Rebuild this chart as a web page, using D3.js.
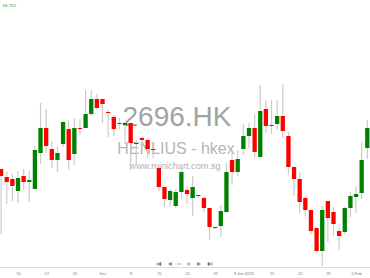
<!DOCTYPE html>
<html>
<head>
<meta charset="utf-8">
<script src="https://cdn.jsdelivr.net/npm/d3@7"></script>
<style>
  body { margin: 0; background: #fff; }
  svg { display: block; font-family: "Liberation Sans", Arial, sans-serif; }
</style>
</head>
<body>
<svg width="370" height="278"></svg>
<script>
// daily candles, 5 Nov 2025 -> 9 Feb 2026 (trading days only)
var opens  = [56.55,56.15,56.05,55.45,56.20,55.90,55.55,57.35,58.60,57.55,57.00,57.80,58.55,57.30,58.60,58.60,59.30,60.05,60.05,59.40,59.15,58.85,58.75,58.85,57.85,58.10,58.00,57.55,56.60,55.65,55.00,54.70,55.40,55.50,55.10,55.20,55.10,54.60,53.60,53.70,54.40,57.00,56.40,57.55,58.20,58.60,57.15,59.55,58.70,58.80,59.20,58.20,56.65,56.05,55.10,54.50,53.60,52.45,54.95,54.40,53.45,53.40,54.60,55.15,55.35,57.60];
var highs  = [56.55,56.40,56.30,56.45,56.55,56.45,57.70,59.85,59.55,57.95,57.65,58.95,59.00,59.10,59.05,60.50,60.50,60.30,60.05,59.50,59.25,59.10,58.90,58.90,58.00,58.15,58.10,57.65,56.60,55.65,55.55,55.55,56.70,55.70,56.20,55.25,55.15,54.60,53.65,54.75,56.85,57.40,57.50,58.80,58.85,59.30,60.75,60.00,60.00,60.00,60.80,58.40,56.70,56.40,55.20,54.50,53.60,54.70,54.95,54.65,53.65,54.65,55.40,55.70,57.90,59.00];
var lows   = [53.30,54.80,54.95,54.85,55.50,54.90,55.55,56.80,57.35,56.60,56.40,57.65,56.50,56.75,58.25,58.60,59.20,59.50,58.85,58.15,58.20,58.55,57.80,56.50,56.75,57.40,57.10,57.10,55.45,54.65,54.65,54.60,55.05,54.80,54.20,55.10,54.40,53.00,53.55,53.15,54.35,55.75,56.20,57.25,57.60,57.10,57.15,58.35,58.30,58.50,58.10,56.25,55.20,54.35,54.20,53.30,52.40,51.70,52.90,53.20,52.50,53.30,54.15,54.35,55.05,57.05];
var closes = [56.20,55.90,55.70,56.10,55.90,56.00,57.50,58.60,57.70,57.00,57.35,58.90,57.00,58.60,58.55,59.30,60.05,59.60,59.80,59.35,58.55,58.80,58.85,57.85,57.80,58.00,57.55,57.50,55.65,55.05,55.45,55.40,56.40,55.30,55.65,55.25,54.60,53.65,53.65,54.45,56.40,56.40,57.05,58.20,58.60,57.40,59.45,58.70,58.75,59.20,58.45,56.65,56.05,54.90,54.50,53.45,52.45,54.50,54.10,53.80,53.20,54.60,55.20,55.30,57.00,58.60];

var tickIndex  = [3, 8, 13, 18, 23, 28, 33, 38, 43, 48, 53, 58, 63];
var tickLabels = ["10", "17", "24", "Dec", "8", "15", "22", "31", "8 Jan 2026", "15", "22", "29", "5 Feb"];

var topLabel = "64.750";

var svg = d3.select("svg"),
    width = +svg.attr("width"),
    height = +svg.attr("height");

var x = d3.scaleLinear().domain([0, opens.length - 1]).range([1.1, 367.3]);
var y = d3.scaleLinear().domain([65, 50.75]).range([0, 285]);

// watermark
var wm = svg.append("g").attr("text-anchor", "middle");
wm.append("text").attr("x", 177).attr("y", 126).style("font-size", "28px").style("fill", "#a3a3a3").text("2696.HK");
wm.append("text").attr("x", 176).attr("y", 153.5).style("font-size", "16px").style("fill", "#b5b5b5").text("HENLIUS - hkex");
wm.append("text").attr("x", 175).attr("y", 169).style("font-size", "9.2px").style("fill", "#b0b0b0").text("www.minichart.com.sg");

// top price label
svg.append("text").attr("x", 2.7).attr("y", 7.4).style("font-size", "4.3px").style("fill", "#3a9a3a").text(topLabel);

// candles
var data = opens.map(function(o, i) {
  return {i: i, o: o, h: highs[i], l: lows[i], c: closes[i]};
});

var candle = svg.append("g").selectAll("g")
  .data(data)
  .enter().append("g");

candle.append("line")
  .attr("x1", function(d) { return x(d.i); })
  .attr("x2", function(d) { return x(d.i); })
  .attr("y1", function(d) { return y(d.h); })
  .attr("y2", function(d) { return y(d.l); })
  .style("stroke", "#cccccc")
  .style("stroke-width", 1.2);

candle.append("rect")
  .attr("x", function(d) { return x(d.i) - 2.15; })
  .attr("width", 4.3)
  .attr("y", function(d) { return y(Math.max(d.o, d.c)); })
  .attr("height", function(d) { return Math.max(1, Math.abs(y(d.o) - y(d.c))); })
  .style("fill", function(d) { return d.c >= d.o ? "#008000" : "#ff0000"; });

// x axis
var axis = d3.axisBottom(x)
  .tickValues(tickIndex)
  .tickFormat(function(d, i) { return tickLabels[i]; })
  .tickSize(0)
  .tickPadding(4.5);

var ax = svg.append("g").attr("transform", "translate(0,267.5)").call(axis);
ax.select(".domain").attr("d", "M0,0H" + width).style("stroke", "#dddddd");
ax.selectAll("text").style("font-size", "4px").style("fill", "#777").style("font-family", "Liberation Sans, Arial, sans-serif");

// navigation buttons
var nav = svg.append("g").attr("transform", "translate(0,264)").style("fill", "#777").style("stroke", "#777");
nav.append("path").attr("d", "M157,-1.6V1.6M161,-1.6L158,0L161,1.6Z").style("stroke-width", 0.7);
nav.append("path").attr("d", "M171.5,-1.6L168.5,0L171.5,1.6Z").style("stroke-width", 0.5);
nav.append("path").attr("d", "M177.5,0H181").style("stroke-width", 0.7);
nav.append("path").attr("d", "M187,0H190.5M188.75,-1.75V1.75").style("stroke-width", 0.7);
nav.append("path").attr("d", "M197.5,-1.6L200.5,0L197.5,1.6Z").style("stroke-width", 0.5);
nav.append("path").attr("d", "M208,-1.6L211,0L208,1.6ZM212,-1.6V1.6").style("stroke-width", 0.7);
</script>
</body>
</html>
